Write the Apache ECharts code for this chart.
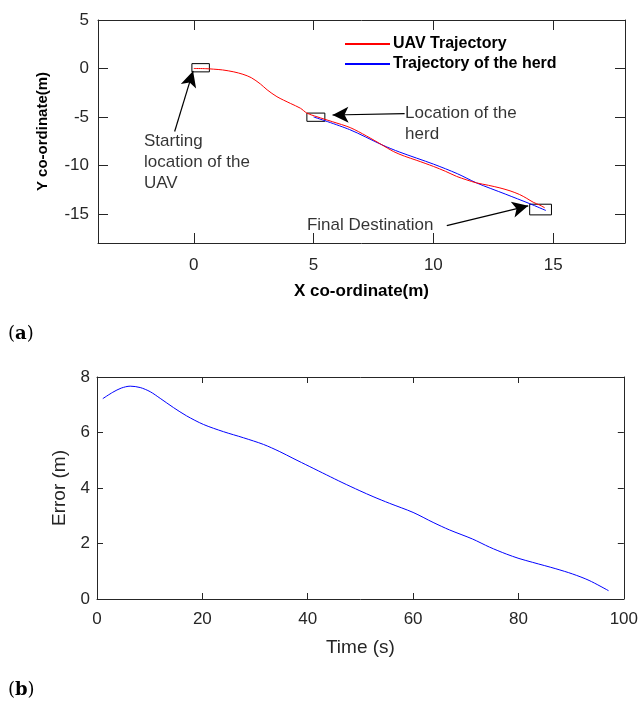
<!DOCTYPE html>
<html>
<head>
<meta charset="utf-8">
<script src="https://cdn.jsdelivr.net/npm/echarts@6/dist/echarts.min.js"></script>
<style>html,body{margin:0;padding:0;background:#fff}#c{width:641px;height:702px}</style>
</head>
<body>
<div id="c"></div>
<script>
// ---- Panel (a): trajectories ----
const uavX = [0, 0.5, 0.83, 1.2, 1.67, 2.05, 2.4, 2.78, 3.06, 3.47, 4.03, 4.45, 4.72, 5.14, 5.8, 6.53, 7.2, 7.85, 8.33, 8.8, 9.31, 10.0, 10.5, 10.97, 11.4, 11.8, 12.3, 12.78, 13.2, 13.6, 13.9, 14.17, 14.45, 14.65];
const uavY = [0, -0.02, -0.07, -0.15, -0.35, -0.6, -0.95, -1.6, -2.2, -2.91, -3.6, -4.1, -4.6, -4.98, -5.5, -6.1, -6.95, -7.87, -8.56, -9.05, -9.48, -10.1, -10.6, -11.13, -11.5, -11.8, -12.05, -12.32, -12.62, -13.0, -13.4, -13.8, -14.1, -14.37];
const herdX = [5.0, 6.5, 7.85, 8.6, 10.0, 11.0, 11.8, 13.0, 14.03, 14.7];
const herdY = [-5.0, -6.3, -7.87, -8.63, -9.86, -10.85, -11.8, -12.95, -13.95, -14.65];
const xTicksA = [0, 5, 10, 15];
const yTicksA = [-15, -10, -5, 0, 5];
// annotation boxes [x1, y1, x2, y2] in data units
const boxes = [[-0.08, 0.5, 0.65, -0.35], [4.72, -4.6, 5.47, -5.45], [14.02, -14.0, 14.93, -15.1]];
// annotation arrows [fromX, fromY, toX, toY]
const arrows = [[-0.8, -6.5, -0.03, -0.25], [8.8, -4.65, 5.79, -4.8], [10.56, -16.2, 13.96, -14.17]];
// annotation texts [x, y, text]
const notes = [[-2.08, -9.69, 'Starting\nlocation of the\nUAV'], [8.82, -5.75, 'Location of the\nherd'], [4.72, -16.19, 'Final Destination']];

// ---- Panel (b): error ----
const errT = [1.1, 3.0, 4.6, 6.3, 8.2, 10.1, 12.0, 14.5, 17.0, 20.2, 24.0, 27.8, 31.6, 34.7, 37.2, 40.4, 43.6, 46.5, 49.9, 52.4, 55.5, 60.0, 63.8, 66.9, 71.3, 74.5, 77.7, 80.1, 82.7, 87.1, 90.3, 93.4, 97.1];
const errV = [7.22, 7.45, 7.6, 7.67, 7.62, 7.47, 7.23, 6.9, 6.6, 6.29, 6.03, 5.81, 5.57, 5.31, 5.07, 4.77, 4.47, 4.2, 3.9, 3.69, 3.45, 3.12, 2.76, 2.49, 2.16, 1.87, 1.62, 1.46, 1.32, 1.09, 0.9, 0.67, 0.3];

const FONT = 'Liberation Sans';
const AX = '#262626';
const zip = (a, b) => a.map((v, i) => [v, b[i]]);

function mirrorAxis(gi, pos, min, max, extra, tickLen) {
  return Object.assign({
    type: 'value', gridIndex: gi, position: pos, min: min, max: max,
    axisLine: {show: true, onZero: false, lineStyle: {color: AX, width: 1}},
    axisTick: {show: true, inside: true, length: tickLen, lineStyle: {color: AX}},
    axisLabel: {show: false}, splitLine: {show: false}
  }, extra);
}

const chart = echarts.init(document.getElementById('c'), null, {renderer: 'canvas'});
chart.setOption({
  animation: false,
  textStyle: {fontFamily: FONT},
  grid: [
    {left: 98, top: 20, right: 16, height: 223},
    {left: 97, top: 377, right: 16, height: 222}
  ],
  legend: {
    data: ['UAV Trajectory', 'Trajectory of the herd'],
    orient: 'vertical', left: 339, top: 31, itemWidth: 45, itemHeight: 10, itemGap: 4,
    itemStyle: {color: 'rgba(0,0,0,0)', borderColor: 'rgba(0,0,0,0)', borderWidth: 0},
    textStyle: {fontFamily: FONT, fontWeight: 'bold', fontSize: 16, color: '#000', padding: [0, 0, 0, -2]},
    selectedMode: false
  },
  xAxis: [
    {
      type: 'value', gridIndex: 0, min: -4, max: 18, position: 'bottom',
      axisLine: {show: true, onZero: false, lineStyle: {color: AX, width: 1}},
      axisTick: {show: true, inside: true, length: 10, customValues: xTicksA, lineStyle: {color: AX}},
      axisLabel: {customValues: xTicksA, fontSize: 17, color: AX, margin: 14, fontFamily: FONT},
      splitLine: {show: false},
      name: 'X co-ordinate(m)', nameLocation: 'middle', nameGap: 40,
      nameTextStyle: {fontFamily: FONT, fontWeight: 'bold', fontSize: 17, color: '#000'}
    },
    mirrorAxis(0, 'top', -4, 18, {axisTick: {show: true, inside: true, length: 10, customValues: xTicksA, lineStyle: {color: AX}}}, 10),
    {
      type: 'value', gridIndex: 1, min: 0, max: 100, interval: 20, position: 'bottom',
      axisLine: {show: true, onZero: false, lineStyle: {color: AX, width: 1}},
      axisTick: {show: true, inside: true, length: 6, lineStyle: {color: AX}},
      axisLabel: {fontSize: 17, color: AX, margin: 12, fontFamily: FONT},
      splitLine: {show: false},
      name: 'Time (s)', nameLocation: 'middle', nameGap: 39,
      nameTextStyle: {fontFamily: FONT, fontSize: 19, color: AX}
    },
    mirrorAxis(1, 'top', 0, 100, {interval: 20}, 6)
  ],
  yAxis: [
    {
      type: 'value', gridIndex: 0, min: -18, max: 5, position: 'left',
      axisLine: {show: true, onZero: false, lineStyle: {color: AX, width: 1}},
      axisTick: {show: true, inside: true, length: 10, customValues: yTicksA, lineStyle: {color: AX}},
      axisLabel: {customValues: yTicksA, fontSize: 17, color: AX, margin: 9, fontFamily: FONT},
      splitLine: {show: false},
      name: 'Y co-ordinate(m)', nameLocation: 'middle', nameGap: 48,
      nameTextStyle: {fontFamily: FONT, fontWeight: 'bold', fontSize: 15, color: '#000'}
    },
    mirrorAxis(0, 'right', -18, 5, {axisTick: {show: true, inside: true, length: 10, customValues: yTicksA, lineStyle: {color: AX}}}, 10),
    {
      type: 'value', gridIndex: 1, min: 0, max: 8, interval: 2, position: 'left',
      axisLine: {show: true, onZero: false, lineStyle: {color: AX, width: 1}},
      axisTick: {show: true, inside: true, length: 6, lineStyle: {color: AX}},
      axisLabel: {fontSize: 17, color: AX, margin: 7, fontFamily: FONT},
      splitLine: {show: false},
      name: 'Error (m)', nameLocation: 'middle', nameGap: 22,
      nameTextStyle: {fontFamily: FONT, fontSize: 19, color: AX}
    },
    mirrorAxis(1, 'right', 0, 8, {interval: 2}, 6)
  ],
  series: [
    {
      name: 'UAV Trajectory', type: 'line', xAxisIndex: 0, yAxisIndex: 0,
      data: zip(uavX, uavY), symbol: 'none', smooth: 0.3,
      lineStyle: {color: '#ff0000', width: 1}, itemStyle: {color: '#ff0000'}, z: 3
    },
    {
      name: 'Trajectory of the herd', type: 'line', xAxisIndex: 0, yAxisIndex: 0,
      data: zip(herdX, herdY), symbol: 'none', smooth: 0.3,
      lineStyle: {color: '#0000ff', width: 1}, itemStyle: {color: '#0000ff'}, z: 2
    },
    {
      name: 'notes', type: 'scatter', xAxisIndex: 0, yAxisIndex: 0,
      data: notes, symbolSize: 0, silent: true, z: 5,
      label: {
        show: true, position: 'right', distance: 0, align: 'left',
        formatter: p => p.data[2], fontFamily: FONT, fontSize: 17, color: '#000', lineHeight: 21
      },
      markArea: {
        silent: true,
        itemStyle: {color: 'rgba(0,0,0,0)', borderColor: '#000', borderWidth: 1},
        label: {show: false},
        data: boxes.map(b => [{coord: [b[0], b[1]]}, {coord: [b[2], b[3]]}])
      },
      markLine: {
        silent: true, symbolSize: [12, 16],
        lineStyle: {color: '#000', width: 1.2, type: 'solid'},
        label: {show: false},
        data: arrows.map(a => [{coord: [a[0], a[1]], symbol: 'none'}, {coord: [a[2], a[3]], symbol: 'arrow'}])
      }
    },
    {
      name: 'Error', type: 'line', xAxisIndex: 2, yAxisIndex: 2,
      data: zip(errT, errV), symbol: 'none', smooth: 0.3,
      lineStyle: {color: '#0000ff', width: 1}
    }
  ],
  graphic: [
    {type: 'text', left: 8, top: 325, style: {text: '{p|(}{b|a}{p|)}', rich: {p: {fontFamily: 'DejaVu Serif', fontSize: 18, fill: '#000'}, b: {fontFamily: 'DejaVu Serif', fontSize: 18, fontWeight: 'bold', fill: '#000'}}}},
    {type: 'text', left: 8, top: 681, style: {text: '{p|(}{b|b}{p|)}', rich: {p: {fontFamily: 'DejaVu Serif', fontSize: 18, fill: '#000'}, b: {fontFamily: 'DejaVu Serif', fontSize: 18, fontWeight: 'bold', fill: '#000'}}}}
  ]
});
</script>
</body>
</html>
